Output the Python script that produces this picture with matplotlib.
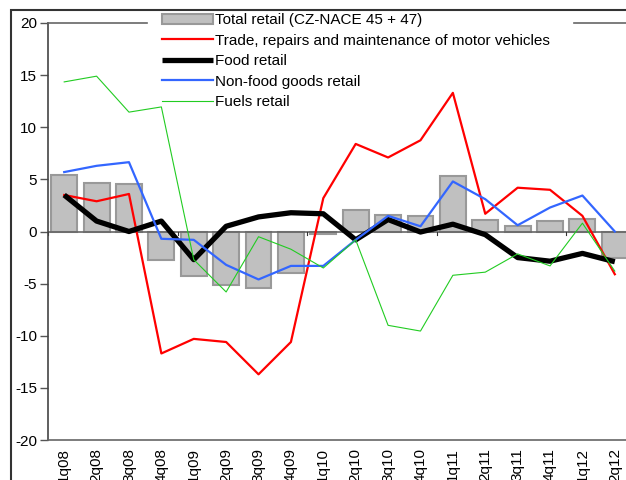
import numpy as np
import matplotlib
matplotlib.use("Agg")
import matplotlib.pyplot as plt
from matplotlib.patches import Rectangle

quarters = ["1q08", "2q08", "3q08", "4q08", "1q09", "2q09", "3q09", "4q09",
            "1q10", "2q10", "3q10", "4q10", "1q11", "2q11", "3q11", "4q11",
            "1q12", "2q12"]

total_retail = [5.4, 4.7, 4.6, -2.7, -4.3, -5.1, -5.4, -4.0,
                -0.2, 2.1, 1.6, 1.5, 5.3, 1.1, 0.5, 1.0, 1.2, -2.5]
motor = [3.5, 2.9, 3.6, -11.7, -10.3, -10.6, -13.7, -10.6,
         3.2, 8.4, 7.1, 8.75, 13.3, 1.7, 4.2, 4.0, 1.5, -4.1]
food = [3.5, 1.0, 0.0, 1.0, -2.7, 0.5, 1.4, 1.8,
        1.7, -0.8, 1.15, -0.05, 0.7, -0.3, -2.5, -2.85, -2.1, -2.9]
nonfood = [5.7, 6.3, 6.65, -0.7, -0.8, -3.2, -4.6, -3.3,
           -3.3, -0.8, 1.5, 0.5, 4.8, 3.1, 0.6, 2.3, 3.45, 0.0]
fuels = [14.35, 14.9, 11.45, 11.95, -2.7, -5.8, -0.5, -1.7,
         -3.5, -0.8, -9.0, -9.55, -4.2, -3.9, -2.15, -3.3, 0.8, -3.8]

plt.rcParams['font.family'] = ['Liberation Sans', 'DejaVu Sans']
plt.rcParams['axes.unicode_minus'] = False

fig = plt.figure(figsize=(6.26, 4.8), dpi=100)
# axes run past the right edge, the picture is cut there
ax = fig.add_axes([48/626, 40/480, 583/626, 417/480])

x = np.arange(len(quarters))
bars = ax.bar(x, total_retail, width=0.8, color="#c0c0c0", edgecolor="#999999",
              linewidth=1.5, label="Total retail (CZ-NACE 45 + 47)", zorder=2)
l1, = ax.plot(x, motor, color="#ff0000", lw=1.6,
              label="Trade, repairs and maintenance of motor vehicles", zorder=3)
l2, = ax.plot(x, food, color="#000000", lw=3.8, label="Food retail", zorder=3,
              solid_capstyle="butt")
l3, = ax.plot(x, nonfood, color="#3366ff", lw=1.6, label="Non-food goods retail", zorder=3)
l4, = ax.plot(x, fuels, color="#22cc22", lw=0.8, label="Fuels retail", zorder=3)

# zero line with year ticks
ax.axhline(0, color="#666666", lw=1.2, zorder=2.5)
for b in [-0.5, 3.5, 7.5, 11.5, 15.5]:
    ax.plot([b, b], [0, -0.3], color="#333333", lw=0.8, zorder=2.5)

ax.set_xlim(-0.5, 17.5)
ax.set_ylim(-20, 20)
ax.set_yticks(range(-20, 21, 5))
ax.set_xticks(x)
ax.set_xticklabels(quarters, rotation=90, fontsize=11)
ax.tick_params(axis="x", length=0, pad=6)
ax.tick_params(axis="y", length=6, width=1, color="#555555", labelsize=11, pad=2)

for s in ["left", "bottom"]:
    ax.spines[s].set_color("#666666")
    ax.spines[s].set_linewidth(1.2)
ax.spines["left"].set_color("#444444")
ax.spines["right"].set_visible(False)
ax.spines["top"].set_visible(False)

# top line, broken where the legend sits
w = 583.0
for a, b in [(0, (147 - 48) / w), ((574 - 48) / w, 1)]:
    ax.plot([a, b], [1, 1], transform=ax.transAxes, color="#666666",
            lw=1.2, clip_on=False, zorder=4)

leg = ax.legend([bars, l1, l2, l3, l4],
                [bars.get_label(), l1.get_label(), l2.get_label(),
                 l3.get_label(), l4.get_label()],
                loc="upper left", bbox_to_anchor=(160/626, 1 - 11/480),
                bbox_transform=fig.transFigure, fontsize=11, frameon=False,
                handlelength=3.3, handletextpad=0.12,
                labelspacing=0.42, borderpad=0.15, borderaxespad=0)

# outer chart border
fig.patches.append(Rectangle((11/626, -0.1), 1.2, 1 - 10/480 + 0.1,
                             transform=fig.transFigure, fill=False,
                             edgecolor="#333333", lw=1.5))

fig.savefig("out.png", dpi=100)
